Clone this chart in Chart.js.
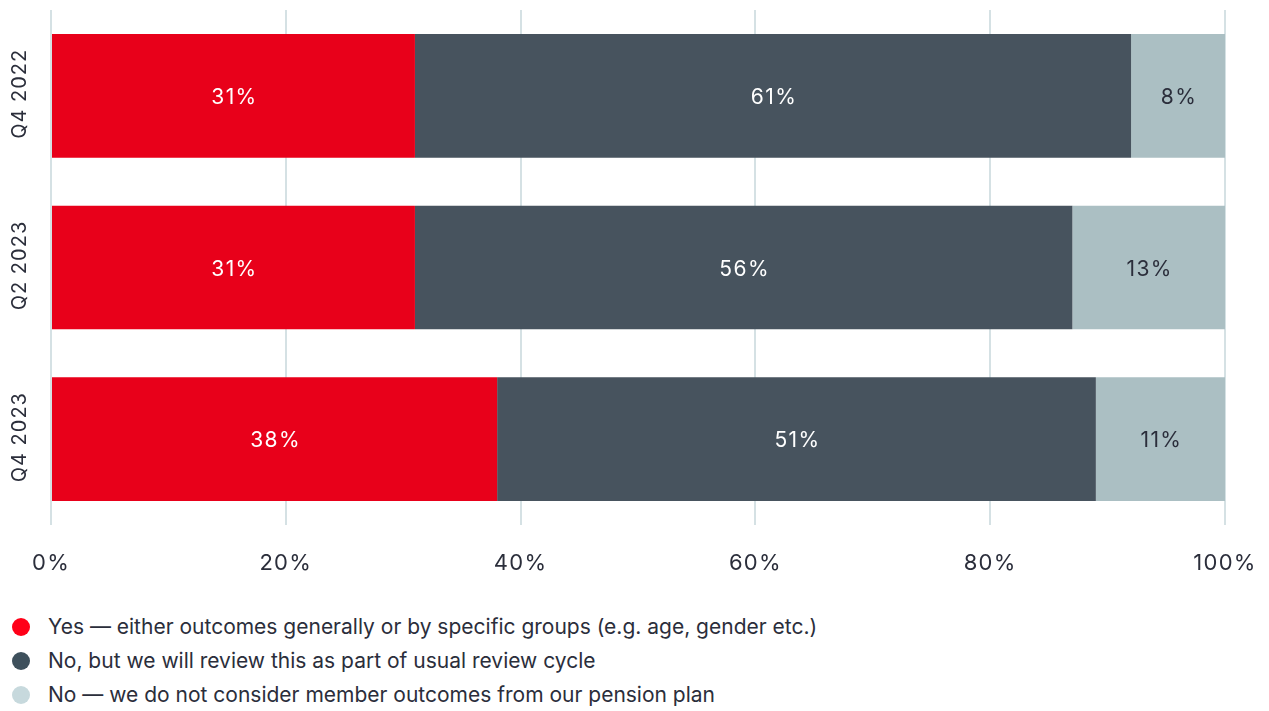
<!DOCTYPE html>
<html>
<head>
<meta charset="utf-8">
<script src="https://cdn.jsdelivr.net/npm/chart.js@4/dist/chart.umd.min.js"></script>
<style>
  html, body { margin: 0; padding: 0; background: #ffffff; }
  #wrap { position: relative; width: 1269px; height: 711px; }
  #chartBox { position: absolute; left: 0; top: 0; width: 1269px; height: 600px; }
  #legend { position: absolute; left: 0; top: 610px; font-family: Inter, "Liberation Sans", sans-serif; font-size: 21px; color: #2b2e3b; }
  .item { position: relative; height: 34px; line-height: 34px; padding-left: 48px; white-space: nowrap; }
  .dot { position: absolute; left: 12px; top: 8px; width: 18px; height: 18px; border-radius: 50%; }
</style>
</head>
<body>
<div id="wrap">
  <div id="chartBox"><canvas id="c"></canvas></div>
  <div id="legend"></div>
</div>
<script>
// Survey periods
const periods = ['Q4 2022', 'Q2 2023', 'Q4 2023'];

// Answer shares (%) per period
const yesValues = [31, 31, 38];
const reviewValues = [61, 56, 51];
const noValues = [8, 13, 11];

const seriesNames = [
  'Yes \u2014 either outcomes generally or by specific groups (e.g. age, gender etc.)',
  'No, but we will review this as part of usual review cycle',
  'No \u2014 we do not consider member outcomes from our pension plan'
];

const xTicks = [0, 20, 40, 60, 80, 100];

const barColors = ['#e8001a', '#47535e', '#abbfc3'];
const dotColors = ['#ff0018', '#3e505c', '#c7d9dd'];
const valueTextColors = ['#ffffff', '#ffffff', '#2b2e3b'];
const inkColor = '#2b2e3b';
const fontFamily = 'Inter, "Liberation Sans", sans-serif';

// Value labels centred inside each segment
const segmentLabels = {
  id: 'segmentLabels',
  afterDatasetsDraw(chart) {
    const ctx = chart.ctx;
    ctx.save();
    ctx.letterSpacing = '1.4px';
    ctx.font = '21px ' + fontFamily;
    ctx.textAlign = 'center';
    ctx.textBaseline = 'middle';
    chart.data.datasets.forEach((ds, di) => {
      const meta = chart.getDatasetMeta(di);
      meta.data.forEach((bar, i) => {
        const p = bar.getProps(['x', 'base', 'y'], true);
        ctx.fillStyle = valueTextColors[di];
        ctx.fillText(ds.data[i] + '%', (p.x + p.base) / 2 + 1, p.y + 2);
      });
    });
    ctx.restore();
  }
};

// Period names, rotated to read bottom-to-top beside each bar
const periodLabels = {
  id: 'periodLabels',
  afterDraw(chart) {
    const ctx = chart.ctx;
    const yScale = chart.scales.y;
    ctx.save();
    ctx.letterSpacing = '1px';
    ctx.font = '20px ' + fontFamily;
    ctx.fillStyle = inkColor;
    ctx.textAlign = 'center';
    ctx.textBaseline = 'middle';
    chart.data.labels.forEach((lab, i) => {
      const y = yScale.getPixelForTick(i);
      ctx.save();
      ctx.translate(20, y - 2);
      ctx.rotate(-Math.PI / 2);
      ctx.fillText(lab, 0, 0);
      ctx.restore();
    });
    ctx.restore();
  }
};

// Wider tracking for the axis tick text
const spacing = {
  id: 'spacing',
  beforeDraw(chart) { chart.ctx.letterSpacing = '1.3px'; }
};

const chart = new Chart(document.getElementById('c'), {
  type: 'bar',
  data: {
    labels: periods,
    datasets: [
      { label: seriesNames[0], data: yesValues, backgroundColor: barColors[0] },
      { label: seriesNames[1], data: reviewValues, backgroundColor: barColors[1] },
      { label: seriesNames[2], data: noValues, backgroundColor: barColors[2] }
    ]
  },
  options: {
    indexAxis: 'y',
    responsive: true,
    maintainAspectRatio: false,
    animation: false,
    layout: { padding: { top: 10, right: 44, left: 0, bottom: 0 } },
    plugins: {
      legend: { display: false },
      tooltip: { enabled: false }
    },
    scales: {
      x: {
        stacked: true,
        min: 0,
        max: 100,
        afterBuildTicks(scale) { scale.ticks = xTicks.map(v => ({ value: v })); },
        afterFit(scale) {
          scale.height = 75;
          scale.paddingLeft = 0;
          scale.paddingRight = 0;
        },
        border: { display: false },
        grid: { color: '#d5e1e4', lineWidth: 2, drawTicks: false },
        ticks: {
          padding: 25,
          color: inkColor,
          font: { family: fontFamily, size: 22 },
          callback: v => v + '%'
        }
      },
      y: {
        stacked: true,
        afterFit(scale) { scale.width = 51; },
        border: { display: false },
        grid: { display: false, drawTicks: false },
        ticks: { display: false }
      }
    }
  },
  plugins: [spacing, segmentLabels, periodLabels]
});

// Legend list under the chart
const legend = document.getElementById('legend');
chart.data.datasets.forEach((ds, i) => {
  const row = document.createElement('div');
  row.className = 'item';
  const dot = document.createElement('span');
  dot.className = 'dot';
  dot.style.background = dotColors[i];
  row.appendChild(dot);
  row.appendChild(document.createTextNode(ds.label));
  legend.appendChild(row);
});
</script>
</body>
</html>
